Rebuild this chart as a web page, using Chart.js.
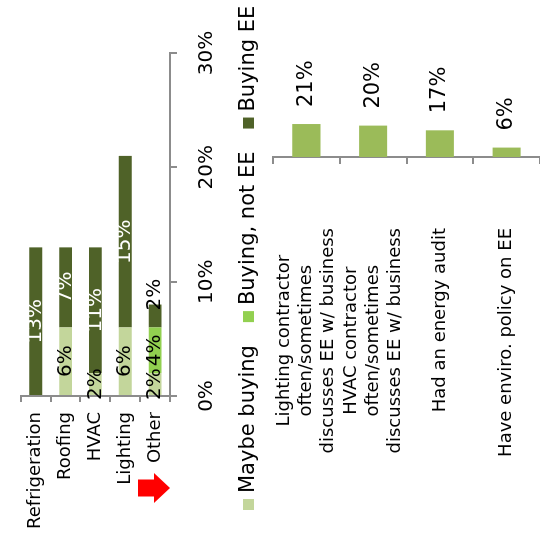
<!DOCTYPE html>
<html>
<head>
<meta charset="utf-8">
<script src="https://cdn.jsdelivr.net/npm/chart.js@4/dist/chart.umd.min.js"></script>
<style>
  html, body { margin: 0; padding: 0; background: #fff; }
  /* the whole slide is laid out upright, then turned a quarter turn */
  #stage {
    position: absolute; left: 0; top: 0;
    width: 540px; height: 540px;
    transform: rotate(-90deg); transform-origin: 270px 270px;
  }
  canvas { display: block; }
</style>
</head>
<body>
<div id="stage">
  <canvas id="purchases" width="540" height="270"></canvas>
  <canvas id="practices" width="540" height="270"></canvas>
</div>
<script>
// Purchase intent by equipment type (% of businesses)
const sectors = ['Refrigeration', 'Roofing', 'HVAC', 'Lighting', 'Other'];
const maybeBuying = [0, 6, 2, 6, 2];
const buyingNotEE = [0, 0, 0, 0, 4];
const buyingEE = [13, 7, 11, 15, 2];
const shareTicks = [0, 10, 20, 30];

// Energy-efficiency practices (% of businesses)
const practiceLabels = [
  ['Lighting contractor', 'often/sometimes', 'discusses EE w/ business'],
  ['HVAC contractor', 'often/sometimes', 'discusses EE w/ business'],
  ['Had an energy audit'],
  ['Have enviro. policy on EE']
];
const practiceShares = [21, 20, 17, 6];

const FAMILY = '"DejaVu Sans", Verdana, sans-serif';
const AXIS = '#8c8c8c';

// percentage labels on each stacked segment
const segmentLabels = {
  id: 'segmentLabels',
  afterDatasetsDraw(chart) {
    const ctx = chart.ctx;
    ctx.save();
    ctx.font = '20px ' + FAMILY;
    ctx.textBaseline = 'middle';
    chart.data.datasets.forEach((ds, di) => {
      const meta = chart.getDatasetMeta(di);
      meta.data.forEach((bar, i) => {
        const v = ds.data[i];
        if (!v) return;
        const txt = v + '%';
        const isEE = di === 2;
        if (isEE && v >= 5) {
          ctx.fillStyle = '#ffffff';
          ctx.textAlign = 'center';
          ctx.fillText(txt, (bar.x + bar.base) / 2, bar.y);
        } else if (isEE) {
          ctx.fillStyle = '#000000';
          ctx.textAlign = 'left';
          ctx.fillText(txt, bar.x - 6, bar.y);
        } else {
          ctx.fillStyle = '#000000';
          ctx.textAlign = 'center';
          ctx.fillText(txt, (bar.x + bar.base) / 2, bar.y);
        }
      });
    });
    ctx.restore();
  }
};

// one-row legend: small square, then series name
const seriesKey = {
  id: 'seriesKey',
  afterDraw(chart) {
    const ctx = chart.ctx;
    const cy = 249;
    let x = 30;
    ctx.save();
    ctx.font = '21px ' + FAMILY;
    ctx.textBaseline = 'middle';
    ctx.textAlign = 'left';
    chart.data.datasets.forEach(ds => {
      ctx.fillStyle = ds.backgroundColor;
      ctx.fillRect(x, cy - 6, 11, 11);
      ctx.fillStyle = '#000';
      ctx.fillText(ds.label, x + 17, cy);
      x += 17 + ctx.measureText(ds.label).width + 23;
    });
    ctx.restore();
  }
};

// red block arrow beside the "Other" row
const otherArrow = {
  id: 'otherArrow',
  afterDraw(chart) {
    const ctx = chart.ctx;
    const cy = chart.scales.y.getPixelForValue(sectors.indexOf('Other'));
    const cx = 52;
    ctx.save();
    ctx.fillStyle = '#ff0000';
    ctx.beginPath();
    ctx.moveTo(cx - 8.5, cy - 17);
    ctx.lineTo(cx + 8.5, cy - 17);
    ctx.lineTo(cx + 8.5, cy - 1);
    ctx.lineTo(cx + 15, cy - 1);
    ctx.lineTo(cx, cy + 15);
    ctx.lineTo(cx - 15, cy - 1);
    ctx.lineTo(cx - 8.5, cy - 1);
    ctx.closePath();
    ctx.fill();
    ctx.restore();
  }
};

new Chart(document.getElementById('purchases'), {
  type: 'bar',
  data: {
    labels: sectors,
    datasets: [
      { label: 'Maybe buying', data: maybeBuying, backgroundColor: '#C3D69B' },
      { label: 'Buying, not EE', data: buyingNotEE, backgroundColor: '#92D050' },
      { label: 'Buying EE', data: buyingEE, backgroundColor: '#4F6228' }
    ]
  },
  options: {
    indexAxis: 'y',
    responsive: false,
    animation: false,
    devicePixelRatio: 1,
    layout: { padding: { top: 8, right: 53, bottom: 52, left: 0 } },
    datasets: { bar: { barPercentage: 0.43, categoryPercentage: 1, borderWidth: 0 } },
    scales: {
      x: {
        stacked: true, min: 0, max: 30,
        afterBuildTicks: s => { s.ticks = shareTicks.map(v => ({ value: v })); },
        grid: { drawOnChartArea: false, tickLength: 7, color: AXIS, lineWidth: 2 },
        border: { color: AXIS, width: 2 },
        ticks: { padding: 18, color: '#000', maxRotation: 0, font: { family: FAMILY, size: 20 }, callback: v => v + '%' },
        afterFit: s => { s.height = 48; }
      },
      y: {
        stacked: true,
        grid: { offset: true, drawOnChartArea: false, tickLength: 6, color: AXIS, lineWidth: 2 },
        border: { color: AXIS, width: 2 },
        ticks: { padding: 10, color: '#000', font: { family: FAMILY, size: 18 } },
        afterFit: s => { s.width = 144; }
      }
    },
    plugins: {
      legend: { display: false },
      tooltip: { enabled: false }
    }
  },
  plugins: [segmentLabels, seriesKey, otherArrow]
});

// category text (lines centred within each label block) and value labels
const practiceText = {
  id: 'practiceText',
  afterDraw(chart) {
    const ctx = chart.ctx;
    const y = chart.scales.y;
    const x = chart.scales.x;
    ctx.save();
    ctx.fillStyle = '#000';
    ctx.textBaseline = 'middle';
    ctx.font = '18px ' + FAMILY;
    const lh = 22;
    const rightEdge = chart.chartArea.left - 71;
    practiceLabels.forEach((lines, i) => {
      const cy = y.getPixelForValue(i);
      const w = Math.max(...lines.map(t => ctx.measureText(t).width));
      const cx = rightEdge - w / 2;
      ctx.textAlign = 'center';
      lines.forEach((t, k) => {
        ctx.fillText(t, cx, cy + (k - (lines.length - 1) / 2) * lh);
      });
    });
    ctx.font = '21px ' + FAMILY;
    ctx.textAlign = 'left';
    const meta = chart.getDatasetMeta(0);
    meta.data.forEach((bar, i) => {
      ctx.fillText(practiceShares[i] + '%', x.getPixelForValue(practiceShares[i]) + 17, bar.y);
    });
    ctx.restore();
  }
};

new Chart(document.getElementById('practices'), {
  type: 'bar',
  data: {
    labels: practiceLabels,
    datasets: [{ data: practiceShares, backgroundColor: '#9BBB59' }]
  },
  options: {
    indexAxis: 'y',
    responsive: false,
    animation: false,
    devicePixelRatio: 1,
    layout: { padding: { top: 3, right: 0, bottom: 0, left: 0 } },
    datasets: { bar: { barPercentage: 0.42, categoryPercentage: 1, borderWidth: 0 } },
    scales: {
      x: { display: false, min: 0, max: 100 },
      y: {
        grid: { offset: true, drawOnChartArea: false, tickLength: 7, color: AXIS, lineWidth: 2 },
        border: { color: AXIS, width: 2 },
        ticks: { display: false },
        afterFit: s => { s.width = 383; }
      }
    },
    plugins: { legend: { display: false }, tooltip: { enabled: false } }
  },
  plugins: [practiceText]
});
</script>
</body>
</html>
